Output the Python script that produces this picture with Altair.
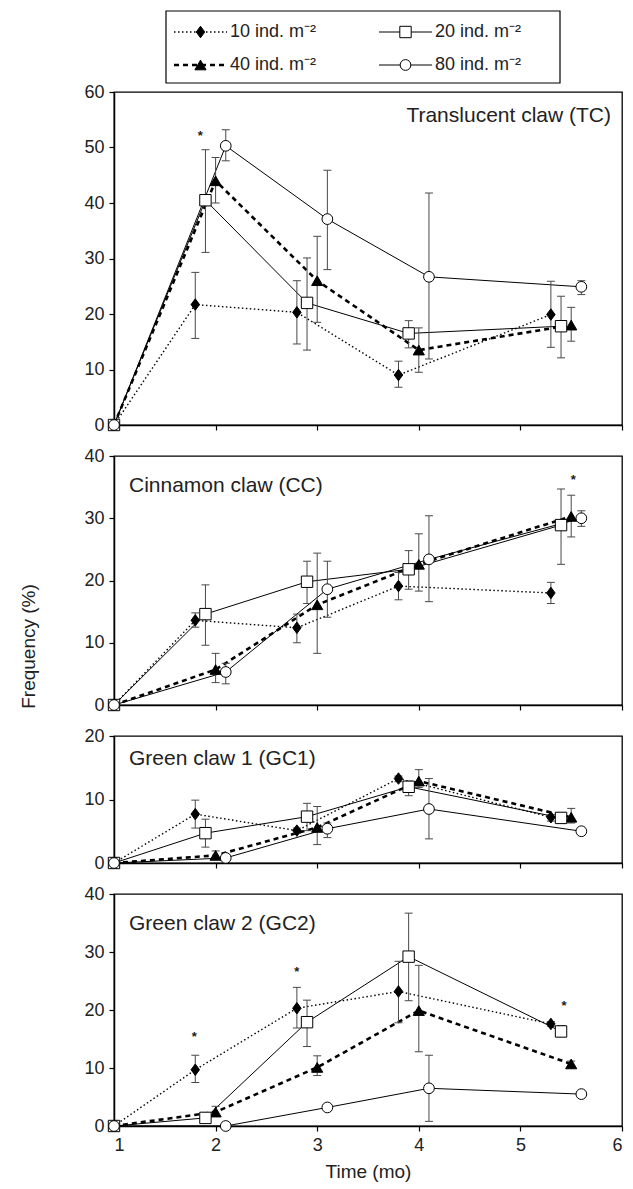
import altair as alt
import pandas as pd

SERIES = ["10", "20", "40", "80"]
LEGEND_LABELS = {"10": "10 ind. m⁻²", "20": "20 ind. m⁻²", "40": "40 ind. m⁻²", "80": "80 ind. m⁻²"}

# sampling times (months), slightly offset per density as in the figure
TIMES = {
    "10": [1.0, 1.8, 2.8, 3.8, 5.3],
    "20": [1.0, 1.9, 2.9, 3.9, 5.4],
    "40": [1.0, 2.0, 3.0, 4.0, 5.5],
    "80": [1.0, 2.1, 3.1, 4.1, 5.6],
}

# Translucent claw (TC)
TC_MEAN = {"10": [0, 21.7, 20.3, 9.0, 19.9], "20": [0, 40.5, 22.0, 16.5, 17.8],
           "40": [0, 44.0, 26.0, 13.5, 18.0], "80": [0, 50.3, 37.1, 26.7, 24.9]}
TC_LOW = {"10": [0, 15.6, 14.6, 6.8, 14.0], "20": [0, 31.1, 13.5, 13.9, 12.1],
          "40": [0, 40.0, 18.5, 9.5, 15.1], "80": [0, 47.6, 28.0, 11.9, 23.5]}
TC_HIGH = {"10": [0, 27.5, 26.0, 11.5, 25.9], "20": [0, 49.6, 30.1, 18.8, 23.2],
           "40": [0, 48.2, 34.0, 17.5, 21.2], "80": [0, 53.2, 45.9, 41.8, 26.0]}
TC_STAR_T = [1.85]
TC_STAR_V = [52.0]

# Cinnamon claw (CC)
CC_MEAN = {"10": [0, 13.6, 12.4, 19.1, 18.0], "20": [0, 14.6, 19.8, 21.8, 28.9],
           "40": [0, 5.7, 16.1, 22.6, 30.3], "80": [0, 5.3, 18.6, 23.4, 30.0]}
CC_LOW = {"10": [0, 12.5, 10.0, 16.9, 16.3], "20": [0, 9.6, 16.3, 18.6, 22.6],
          "40": [0, 3.6, 8.3, 18.3, 27.0], "80": [0, 3.4, 14.1, 16.6, 28.7]}
CC_HIGH = {"10": [0, 14.8, 14.6, 21.3, 19.7], "20": [0, 19.3, 23.1, 24.8, 34.7],
           "40": [0, 8.3, 24.4, 27.5, 33.7], "80": [0, 6.7, 23.1, 30.4, 31.2]}
CC_STAR_T = [5.52]
CC_STAR_V = [36.2]

# Green claw 1 (GC1)
GC1_MEAN = {"10": [0, 7.7, 5.1, 13.3, 7.2], "20": [0, 4.7, 7.3, 12.0, 7.1],
            "40": [0, 1.2, 5.6, 12.9, 7.2], "80": [0, 0.8, 5.4, 8.5, 5.0]}
GC1_LOW = {"10": [0, 5.5, 4.7, 12.8, 6.6], "20": [0, 2.5, 5.1, 10.6, 6.3],
           "40": [0, 0.8, 2.9, 11.9, 6.3], "80": [0, 0.8, 4.0, 3.8, 5.0]}
GC1_HIGH = {"10": [0, 9.9, 5.5, 13.7, 7.6], "20": [0, 6.9, 9.4, 12.9, 7.9],
            "40": [0, 1.9, 8.9, 14.7, 8.6], "80": [0, 0.8, 6.3, 13.3, 5.0]}
GC1_STAR_T = []
GC1_STAR_V = []

# Green claw 2 (GC2)
GC2_MEAN = {"10": [0, 9.7, 20.3, 23.2, 17.6], "20": [0, 1.4, 17.9, 29.2, 16.3],
            "40": [0, 2.4, 10.1, 19.9, 10.7], "80": [0, 0.0, 3.2, 6.5, 5.5]}
GC2_LOW = {"10": [0, 7.5, 16.9, 17.8, 17.2], "20": [0, 0.7, 13.7, 21.6, 15.4],
           "40": [0, 1.7, 8.7, 12.8, 10.3], "80": [0, 0.0, 3.2, 0.8, 5.5]}
GC2_HIGH = {"10": [0, 12.2, 23.9, 28.4, 18.0], "20": [0, 2.3, 21.7, 36.7, 17.3],
            "40": [0, 3.4, 12.1, 27.7, 11.2], "80": [0, 0.0, 3.2, 12.2, 5.5]}
GC2_STAR_T = [1.79, 2.80, 5.43]
GC2_STAR_V = [15.4, 26.5, 20.7]

X_TICKS = [1, 2, 3, 4, 5, 6]

# ---------------- styling ----------------
FONT = "Liberation Sans"
INK = "#222222"
EB_COLOR = "#484848"
PANEL_W = 508
TALL_DIAMOND = "M0,-1.15L0.85,0L0,1.15L-0.85,0Z"

STYLE = {
    "10": dict(dash=[1.5, 2.5], width=1.4, shape=TALL_DIAMOND, fill="black", size=100),
    "20": dict(dash=None, width=1.0, shape="square", fill="white", size=130),
    "40": dict(dash=[5, 4], width=2.6, shape="triangle-up", fill="black", size=125),
    "80": dict(dash=None, width=1.0, shape="circle", fill="white", size=115),
}


def line_kwargs(s):
    st = STYLE[s]
    kw = dict(color="black", strokeWidth=st["width"])
    if st["dash"] is not None:
        kw["strokeDash"] = st["dash"]
    return kw


def point_kwargs(s):
    st = STYLE[s]
    return dict(shape=st["shape"], filled=True, fill=st["fill"], stroke="black",
                strokeWidth=1, size=st["size"], opacity=1)


def make_panel(mean, low, high, ymax, height, title, tx, ty, talign,
               star_t, star_v, bottom=False, ytitle=False):
    rows = []
    for s in SERIES:
        for t, m, lo, hi in zip(TIMES[s], mean[s], low[s], high[s]):
            rows.append(dict(series=s, t=t, v=m, lo=lo, hi=hi))
    df = pd.DataFrame(rows)
    base = alt.Chart(df)

    xscale = alt.Scale(domain=[1, 6], nice=False, zero=False)
    yscale = alt.Scale(domain=[0, ymax], nice=False)
    if bottom:
        xaxis = alt.Axis(values=X_TICKS, format="d", title="Time (mo)", titlePadding=8)
    else:
        xaxis = alt.Axis(values=X_TICKS, labels=False, title=None)
    ykw = dict(values=list(range(0, ymax + 1, 10)), format="d")
    if ytitle:
        ykw.update(title="Frequency (%)", titleX=-86, titleY=190, titleAngle=270,
                   titleAlign="center", titleBaseline="middle")
    else:
        ykw.update(title=None)
    yaxis = alt.Axis(**ykw)

    X = alt.X("t:Q", scale=xscale, axis=xaxis)
    layers = []
    for s in ["80", "20", "40", "10"]:
        layers.append(
            base.transform_filter(alt.datum.series == s)
            .mark_line(**line_kwargs(s))
            .encode(x=X, y=alt.Y("v:Q", scale=yscale, axis=yaxis), order="t:Q")
        )
    eb = base.transform_filter("datum.hi > datum.lo")
    layers.append(
        eb.mark_rule(color=EB_COLOR, strokeWidth=1).encode(
            x=X, y=alt.Y("lo:Q", scale=yscale, axis=yaxis), y2="hi:Q")
    )
    for f in ["lo", "hi"]:
        layers.append(
            eb.mark_tick(orient="horizontal", size=8, thickness=1, color=EB_COLOR, opacity=1)
            .encode(x=X, y=alt.Y(f + ":Q", scale=yscale, axis=yaxis))
        )
    for s in ["10", "40", "20", "80"]:
        layers.append(
            base.transform_filter(alt.datum.series == s)
            .mark_point(**point_kwargs(s))
            .encode(x=X, y=alt.Y("v:Q", scale=yscale, axis=yaxis))
        )
    if star_t:
        layers.append(
            alt.Chart(pd.DataFrame({"t": star_t, "v": star_v}))
            .mark_text(text="*", fontSize=13, fontWeight="bold", color=INK, baseline="middle")
            .encode(x=X, y=alt.Y("v:Q", scale=yscale, axis=yaxis))
        )
    layers.append(
        alt.Chart(pd.DataFrame({"label": [title]}))
        .mark_text(align=talign, baseline="middle", fontSize=21, color=INK)
        .encode(text="label:N", x=alt.value(tx), y=alt.value(ty))
    )
    return alt.layer(*layers).properties(width=PANEL_W, height=height)


# ---------------- legend ----------------
leg_layers = [
    alt.Chart(pd.DataFrame({"a": [0]}))
    .mark_rect(fill="white", stroke="black", strokeWidth=1.2)
    .encode(x=alt.value(52), x2=alt.value(446), y=alt.value(0), y2=alt.value(72))
]
LEG_POS = {"10": (60, 21), "20": (265, 21), "40": (60, 54), "80": (265, 54)}
for s in SERIES:
    x0, yc = LEG_POS[s]
    one = alt.Chart(pd.DataFrame({"label": [LEGEND_LABELS[s]]}))
    leg_layers.append(one.mark_rule(**line_kwargs(s)).encode(
        x=alt.value(x0), x2=alt.value(x0 + 53), y=alt.value(yc)))
    leg_layers.append(one.mark_point(**point_kwargs(s)).encode(
        x=alt.value(x0 + 26.5), y=alt.value(yc)))
    leg_layers.append(one.mark_text(align="left", baseline="middle", fontSize=18, color=INK).encode(
        text="label:N", x=alt.value(x0 + 56), y=alt.value(yc)))
legend = alt.layer(*leg_layers).properties(
    width=PANEL_W, height=50, view=alt.ViewBackground(stroke="transparent"))

tc = make_panel(TC_MEAN, TC_LOW, TC_HIGH, 60, 333, "Translucent claw (TC)", 497, 24, "right",
                TC_STAR_T, TC_STAR_V)
cc = make_panel(CC_MEAN, CC_LOW, CC_HIGH, 40, 249, "Cinnamon claw (CC)", 15, 30, "left",
                CC_STAR_T, CC_STAR_V, ytitle=True)
gc1 = make_panel(GC1_MEAN, GC1_LOW, GC1_HIGH, 20, 127, "Green claw 1 (GC1)", 15, 23, "left",
                 GC1_STAR_T, GC1_STAR_V)
gc2 = make_panel(GC2_MEAN, GC2_LOW, GC2_HIGH, 40, 232, "Green claw 2 (GC2)", 15, 30, "left",
                 GC2_STAR_T, GC2_STAR_V, bottom=True)

chart = (
    alt.vconcat(legend, tc, cc, gc1, gc2, spacing=31, bounds="flush")
    .properties(padding={"left": 18, "top": 9, "right": 5, "bottom": 5}, background="white")
    .configure(font=FONT)
    .configure_view(stroke="black", strokeWidth=1.3)
    .configure_axis(domainColor="black", domainWidth=1.5, tickColor="black", tickWidth=1.2,
                    tickSize=5, labelFontSize=18, labelColor=INK, labelPadding=5,
                    titleFontSize=19, titleFontWeight="normal", titleColor=INK, grid=False)
)

chart.save("out.html", embed_options={"renderer": "svg", "actions": False})
